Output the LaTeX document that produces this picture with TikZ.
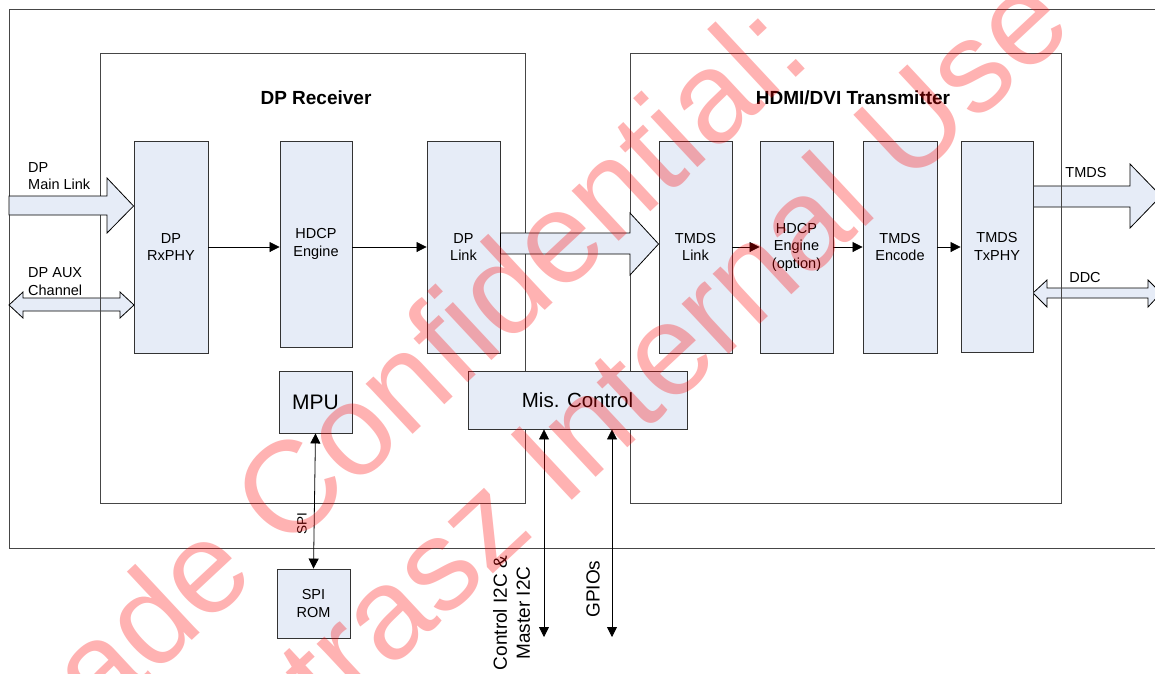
\documentclass[tikz,border=0pt]{standalone}
\usepackage{fontspec}
\setmainfont{Liberation Sans}
\usetikzlibrary{arrows.meta}
\definecolor{boxblue}{RGB}{230,236,247}
\definecolor{framegray}{RGB}{70,70,70}
\begin{document}
\begin{tikzpicture}[x=1pt,y=-1pt,
  blk/.style={draw=black!80, fill=boxblue, line width=0.9pt, inner sep=0pt, align=center, font=\fontsize{14.5}{17.5}\selectfont},
  sz/.style 2 args={minimum width=#1pt, minimum height=#2pt},
  cont/.style={draw=framegray, line width=0.9pt, inner sep=0pt},
  arr/.style={draw=black, line width=0.8pt, -{Triangle[length=10pt,width=10pt]}},
  darr/.style={draw=black, line width=0.8pt, {Triangle[length=10pt,width=10pt]}-{Triangle[length=10pt,width=10pt]}},
  barrow/.style={draw=black, line width=0.8pt, fill=boxblue, line join=miter},
  lbl/.style={font=\fontsize{14.5}{17.5}\selectfont, inner sep=0pt, align=left},
  ttl/.style={font=\bfseries\fontsize{19}{22}\selectfont, inner sep=0pt},
  vlbl/.style={font=\fontsize{19}{23}\selectfont, inner sep=0pt, rotate=90, align=center},
  wm/.style={text=red, opacity=0.3, font=\fontsize{130}{150}\selectfont, inner sep=0pt, anchor=base west, rotate=43}
]
\useasboundingbox (0,0) rectangle (1155,673);
\clip (0,0) rectangle (1155,673);
\fill[white] (0,0) rectangle (1155,673);

% outer chip frame
\node[cont, sz={1160}{539}, anchor=north west] (chip) at (9,9) {};

% arrows that lie under the frames
\draw[barrow] (9,305) -- (23,292) -- (23,298) -- (120,298) -- (120,292) -- (134,305)
  -- (120,318) -- (120,311) -- (23,311) -- (23,318) -- cycle;
\draw[barrow] (1033,186) -- (1130,186) -- (1130,164) -- (1161,196) -- (1130,228)
  -- (1130,207) -- (1033,207) -- cycle;
\draw[barrow] (1033,293) -- (1047,280) -- (1047,288) -- (1148,288) -- (1148,280)
  -- (1161,293) -- (1148,307) -- (1148,298) -- (1047,298) -- (1047,307) -- cycle;

% sub-system frames
\node[cont, sz={425}{450}, anchor=north west] (dprx) at (100,53) {};
\node[cont, sz={431}{450}, anchor=north west] (hdmitx) at (630,53) {};
\node[ttl] (dprxt) at (316,98) {DP Receiver};
\node[ttl] (hdmitxt) at (853,98) {HDMI/DVI Transmitter};

% blocks
\node[blk, sz={74}{212}] (rxphy) at (171,247) {DP\\RxPHY};
\node[blk, sz={72}{206}] (hdcp) at (316,244) {HDCP\\Engine};
\node[blk, sz={73}{212}] (dplink) at (463.5,247) {DP\\Link};
\node[blk, sz={73}{212}] (tmdslink) at (695.5,247) {TMDS\\Link};
\node[blk, sz={73}{212}] (hdcpopt) at (796.5,247) {HDCP\\Engine\\(option)};
\node[blk, sz={74}{212}] (encode) at (900,247) {TMDS\\Encode};
\node[blk, sz={72}{211}] (txphy) at (997,246.5) {TMDS\\TxPHY};
\node[blk, sz={73}{62}, font=\fontsize{21}{24}\selectfont] (mpu) at (315.5,402) {MPU};
\node[blk, sz={219}{58}, font=\fontsize{20.5}{24}\selectfont] (misc) at (577.5,400) {Mis. Control};
\node[blk, sz={73}{69}] (spirom) at (313.5,603.5) {SPI\\ROM};

% block arrows over the frames
\draw[barrow] (9,196) -- (107,196) -- (107,178) -- (rxphy.west |- 0,206) -- (107,233)
  -- (107,215) -- (9,215) -- cycle;
\draw[barrow] (dplink.east |- 0,233) -- (630,233) -- (630,213) -- (tmdslink.west |- 0,244)
  -- (630,275) -- (630,254) -- (dplink.east |- 0,254) -- cycle;

% labels of external signals
\node[lbl, anchor=west] (mainl) at (28,176) {DP\\Main Link};
\node[lbl, anchor=west] (auxl) at (28,281.5) {DP AUX\\Channel};
\node[lbl] (tmdsl) at (1086,173) {TMDS};
\node[lbl] (ddcl) at (1085,277) {DDC};

% data path arrows
\draw[arr] (rxphy.east) -- (rxphy.east -| hdcp.west);
\draw[arr] (dplink.west -| hdcp.east) -- (dplink.west);
\draw[arr] (tmdslink.east) -- (hdcpopt.west);
\draw[arr] (hdcpopt.east) -- (encode.west);
\draw[arr] (encode.east) -- (encode.east -| txphy.west);

% control arrows
\coordinate (i2cend) at (544,637);
\coordinate (gpioend) at (612,637);
\draw[darr] (mpu.south) -- (spirom.north);
\draw[darr] (misc.south -| i2cend) -- (i2cend);
\draw[darr] (misc.south -| gpioend) -- (gpioend);
\node[font=\fontsize{13.5}{16}\selectfont, inner sep=0pt, rotate=90] (spil) at (302,524) {SPI};
\node[vlbl] (i2cl) at (511.5,613) {Control I2C \&\\Master I2C};
\node[vlbl] (gpiol) at (593,589) {GPIOs};

% watermark
\node[wm] (wm1) at (100,726) {ade Confidential:};
\node[wm] (wm2) at (331,725) {trasz Internal Use};
\end{tikzpicture}
\end{document}
